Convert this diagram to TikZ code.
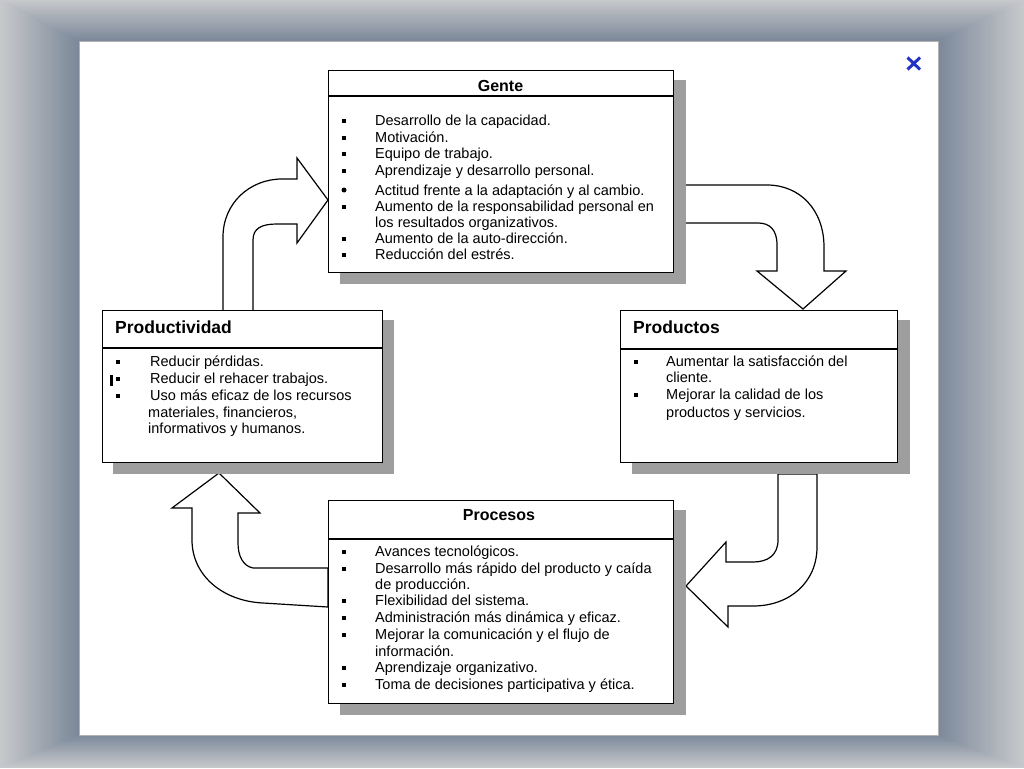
\documentclass[tikz,border=0pt]{standalone}
\usepackage{fontspec}
\setmainfont{Liberation Sans}
\usetikzlibrary{calc}
\definecolor{frameout}{RGB}{199,200,203}
\definecolor{framein}{RGB}{124,137,154}
\definecolor{shadowgray}{RGB}{158,158,158}
\definecolor{xblue}{RGB}{36,52,196}
\pgfdeclarelayer{framelayer}
\pgfdeclarelayer{underlayer}
\pgfsetlayers{framelayer,underlayer,main}
\newcommand\itm[4]{\node[txt] (#1) at (#2,#3) {#4};}
\newcommand\sqb[3]{\node[sqbullet] (#1) at (#2,#3) {};}
\begin{document}
\begin{tikzpicture}[x=1pt,y=-1pt,
  box/.style={draw=black,line width=1.3pt,fill=white,anchor=north west,inner sep=0pt},
  txt/.style={anchor=base west,inner sep=0pt,font=\fontsize{14.5}{17}\selectfont},
  ttl/.style={inner sep=0pt,font=\bfseries\fontsize{17.5}{20}\selectfont},
  sqbullet/.style={fill=black,inner sep=0pt,minimum size=4pt},
  rdbullet/.style={circle,fill=black,inner sep=0pt,minimum size=5pt},
  barrow/.style={draw=black,line width=1.2pt,fill=white,line join=miter},
  shad/.style={fill=shadowgray,draw=none}]
\useasboundingbox (0,0) rectangle (1024,768);
% ---------- frame ----------
\begin{pgfonlayer}{framelayer}
\foreach \i in {0,...,39}{
  \pgfmathsetmacro\t{100*\i/39}
  \colorlet{cc}{framein!\t!frameout}
  \fill[cc] ({\i*79/40},{\i*41/40}) rectangle ({1024-\i*86/40},{768-\i*33/40});
}
\fill[white] (79,41) rectangle (938,735);
\draw[gray!60,line width=0.8pt] (79,41) rectangle (938,735);
\end{pgfonlayer}
% ---------- boxes ----------
\node[box,minimum width=345pt,minimum height=202pt] (gente) at (328,70) {};
\node[box,minimum width=280pt,minimum height=152pt] (prodv) at (102,310) {};
\node[box,minimum width=277pt,minimum height=152pt] (prodc) at (620,310) {};
\node[box,minimum width=345pt,minimum height=203pt] (proc) at (328,500) {};
\draw[line width=1.3pt] ($(gente.north west)+(0,26)$) -- ($(gente.north east)+(0,26)$);
\draw[line width=1.3pt] ($(prodv.north west)+(0,38)$) -- ($(prodv.north east)+(0,38)$);
\draw[line width=1.3pt] ($(prodc.north west)+(0,39)$) -- ($(prodc.north east)+(0,39)$);
\draw[line width=1.3pt] ($(proc.north west)+(0,39)$) -- ($(proc.north east)+(0,39)$);
% ---------- shadows and block arrows ----------
\begin{pgfonlayer}{underlayer}
\draw[barrow] (223,311) -- (223,237) .. controls (223,203) and (250,179) .. (282,179)
  -- (297,179) -- (297,158) -- (328,200) -- (297,243) -- (297,224) -- (277,224)
  .. controls (262,224) and (253,228) .. (253,240) -- (253,311) -- cycle;
\draw[barrow] (673,185) -- (767,185) .. controls (800,185) and (824,210) .. (824,247)
  -- (824,271) -- (846,271) -- (803,309) -- (757,271) -- (777,271) -- (777,245)
  .. controls (777,230) and (770,223) .. (758,223) -- (673,223) -- cycle;
\draw[barrow] (778,474) -- (778,540) .. controls (778,555) and (768,562) .. (753,562)
  -- (726,562) -- (726,542) -- (686,586) -- (728,627) -- (728,606) -- (753,606)
  .. controls (790,606) and (817,582) .. (817,547) -- (817,474) -- cycle;
\draw[barrow] (328,568) -- (253,568) .. controls (243,566) and (238,556) .. (238,543)
  -- (238,513) -- (260,513) -- (219,473) -- (172,508) -- (192,508) -- (192,540)
  .. controls (192,575) and (222,601) .. (263,603) -- (328,607) -- cycle;
\fill[shad] ($(gente.north west)+(12,10)$) rectangle ($(gente.south east)+(12,11)$);
\fill[shad] ($(prodv.north west)+(11,10)$) rectangle ($(prodv.south east)+(11,11)$);
\fill[shad] ($(prodc.north west)+(12,10)$) rectangle ($(prodc.south east)+(12,11)$);
\fill[shad] ($(proc.north west)+(12,10)$) rectangle ($(proc.south east)+(12,11)$);
\end{pgfonlayer}
% ---------- titles ----------
\node[ttl,font=\bfseries\fontsize{16}{18}\selectfont,anchor=base] (genteT) at (500.5,91) {Gente};
\node[ttl,anchor=base west] (prodvT) at (115,333) {Productividad};
\node[ttl,anchor=base west] (prodcT) at (633,333) {Productos};
\node[ttl,font=\bfseries\fontsize{16}{18}\selectfont,anchor=base] (procT) at (499,520) {Procesos};
% ---------- Gente ----------
\sqb{gb1}{344}{121} \itm{g1}{375}{125}{Desarrollo de la capacidad.}
\sqb{gb2}{344}{138} \itm{g2}{375}{142}{Motivación.}
\sqb{gb3}{344}{154} \itm{g3}{375}{158}{Equipo de trabajo.}
\sqb{gb4}{344}{171} \itm{g4}{375}{175}{Aprendizaje y desarrollo personal.}
\node[rdbullet] (gb5) at (344,190) {};
\itm{g5}{375}{195}{Actitud frente a la adaptación y al cambio.}
\sqb{gb6}{344}{207} \itm{g6}{375}{211}{Aumento de la responsabilidad personal en}
\itm{g7}{375}{227}{los resultados organizativos.}
\sqb{gb8}{344}{239} \itm{g8}{375}{243}{Aumento de la auto-dirección.}
\sqb{gb9}{344}{255} \itm{g9}{375}{259}{Reducción del estrés.}
% ---------- Productividad ----------
\sqb{vb1}{118}{362} \itm{v1}{150}{366}{Reducir pérdidas.}
\sqb{vb2}{118}{379} \itm{v2}{150}{383}{Reducir el rehacer trabajos.}
\node[fill=black,inner sep=0pt,minimum width=2.2pt,minimum height=11pt] (vbar) at (111.5,380) {};
\sqb{vb3}{118}{396} \itm{v3}{150}{400}{Uso más eficaz de los recursos}
\itm{v4}{148}{417}{materiales, financieros,}
\itm{v5}{148}{433}{informativos y humanos.}
% ---------- Productos ----------
\sqb{cb1}{636}{362} \itm{c1}{666}{366}{Aumentar la satisfacción del}
\itm{c2}{666}{382}{cliente.}
\sqb{cb3}{636}{395} \itm{c3}{666}{399}{Mejorar la calidad de los}
\itm{c4}{666}{417}{productos y servicios.}
% ---------- Procesos ----------
\sqb{pb1}{344}{552} \itm{p1}{375}{556}{Avances tecnológicos.}
\sqb{pb2}{344}{569} \itm{p2}{375}{573}{Desarrollo más rápido del producto y caída}
\itm{p3}{375}{589}{de producción.}
\sqb{pb4}{344}{601} \itm{p4}{375}{605}{Flexibilidad del sistema.}
\sqb{pb5}{344}{618} \itm{p5}{375}{622}{Administración más dinámica y eficaz.}
\sqb{pb6}{344}{635} \itm{p6}{375}{639}{Mejorar la comunicación y el flujo de}
\itm{p7}{375}{656}{información.}
\sqb{pb8}{344}{668} \itm{p8}{375}{672}{Aprendizaje organizativo.}
\sqb{pb9}{344}{685} \itm{p9}{375}{689}{Toma de decisiones participativa y ética.}
% ---------- close mark ----------
\draw[xblue,line width=3pt] (907.5,57.5) -- (920,69.5) (920,57.5) -- (907.5,69.5);
\end{tikzpicture}
\end{document}
